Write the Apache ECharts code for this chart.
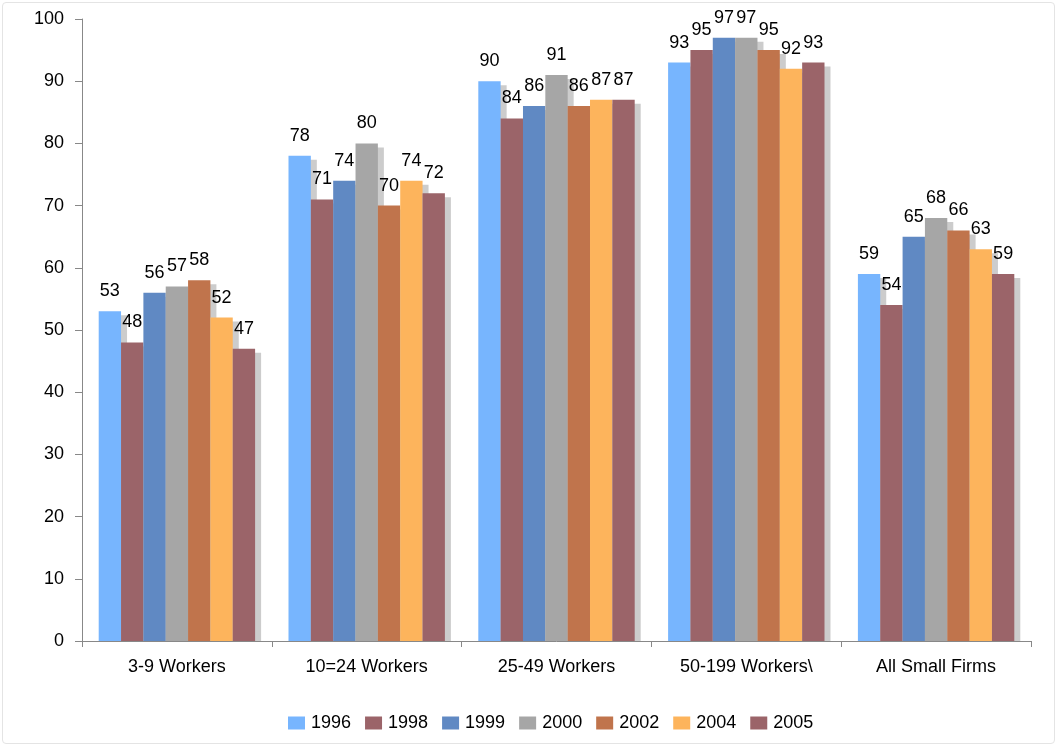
<!DOCTYPE html>
<html>
<head>
<meta charset="utf-8">
<script src="https://cdn.jsdelivr.net/npm/echarts@6/dist/echarts.min.js"></script>
<style>
  html, body { margin: 0; padding: 0; background: #fff; }
  #frame { position: absolute; left: 2px; top: 2px; width: 1053px; height: 742px;
           border: 1px solid #e4e4e4; border-radius: 4px; box-sizing: border-box; }
  #chart { position: absolute; left: 0; top: 0; width: 1059px; height: 748px; }
</style>
</head>
<body>
<div id="frame"></div>
<div id="chart"></div>
<script>
// Firm-size groups on the x axis
const categories = ['3-9 Workers', '10=24 Workers', '25-49 Workers', '50-199 Workers\\', 'All Small Firms'];
// Survey years, one bar series each
const years = ['1996', '1998', '1999', '2000', '2002', '2004', '2005'];
const yearColors = ['#77b5fe', '#9b6469', '#6089c3', '#a6a6a6', '#c0744c', '#fdb45c', '#9b6469'];
// Percent values per year, in category order
const v1996 = [53, 78, 90, 93, 59];
const v1998 = [48, 71, 84, 95, 54];
const v1999 = [56, 74, 86, 97, 65];
const v2000 = [57, 80, 91, 97, 68];
const v2002 = [58, 70, 86, 95, 66];
const v2004 = [52, 74, 87, 92, 63];
const v2005 = [47, 72, 87, 93, 59];
const seriesValues = [v1996, v1998, v1999, v2000, v2002, v2004, v2005];
const yTicks = { min: 0, max: 100, interval: 10 };

const font = 'Liberation Sans, Arial, sans-serif';
const chart = echarts.init(document.getElementById('chart'), null, { renderer: 'canvas' });

const gridBox = { left: 82, right: 28, top: 19, bottom: 107 };

const series = years.map((y, i) => ({
  name: y,
  type: 'bar',
  data: seriesValues[i],
  barGap: '0%',
  barCategoryGap: '17.6%',
  itemStyle: {
    color: yearColors[i],
    shadowColor: '#cccccc',
    shadowBlur: 0,
    shadowOffsetX: 6,
    shadowOffsetY: 4
  },
  label: {
    show: true,
    position: 'top',
    distance: 11,
    color: '#000',
    fontFamily: font,
    fontSize: 18
  },
  emphasis: { disabled: true }
}));

chart.setOption({
  animation: false,
  backgroundColor: 'transparent',
  color: yearColors,
  grid: { left: gridBox.left, right: gridBox.right, top: gridBox.top, bottom: gridBox.bottom, containLabel: false },
  // white strip under the x axis so the bar drop shadows stop at the baseline
  graphic: [{
    type: 'rect',
    z: 5,
    silent: true,
    shape: { x: gridBox.left + 1, y: 748 - gridBox.bottom + 0.5, width: 1059 - gridBox.left - gridBox.right - 1, height: 6 },
    style: { fill: '#ffffff' }
  }],
  legend: {
    top: 709,
    left: 283,
    itemWidth: 17,
    itemHeight: 13,
    itemGap: 14,
    icon: 'rect',
    textStyle: { fontFamily: font, fontSize: 18, color: '#000', padding: [0, 0, 0, 1] },
    data: years
  },
  xAxis: {
    type: 'category',
    data: categories,
    z: 10,
    axisLine: { lineStyle: { color: '#888', width: 1 } },
    axisTick: { show: true, length: 6, lineStyle: { color: '#888' } },
    axisLabel: { color: '#000', fontFamily: font, fontSize: 18, margin: 17 }
  },
  yAxis: {
    type: 'value',
    min: yTicks.min,
    max: yTicks.max,
    interval: yTicks.interval,
    z: 10,
    splitLine: { show: false },
    axisLine: { show: true, lineStyle: { color: '#888', width: 1 } },
    axisTick: { show: true, length: 7, lineStyle: { color: '#888' } },
    axisLabel: { color: '#000', fontFamily: font, fontSize: 18, margin: 18 }
  },
  series: series
});
</script>
</body>
</html>
